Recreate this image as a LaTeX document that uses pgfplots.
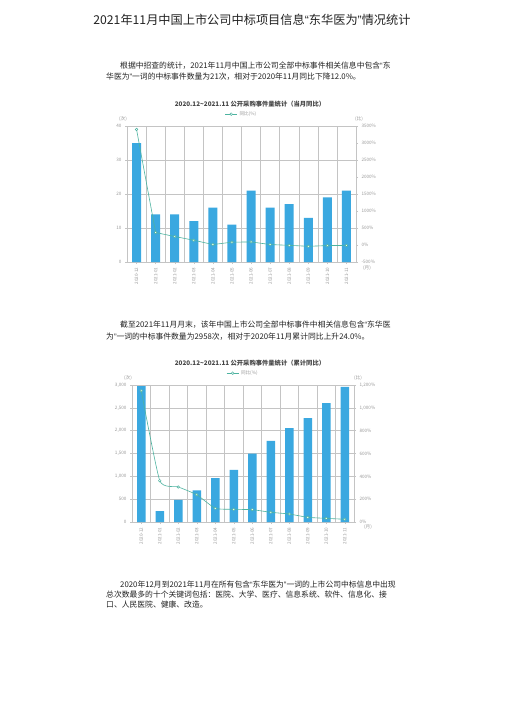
\documentclass[border=0pt]{standalone}
\usepackage{fontspec}
\setmainfont{Noto Sans CJK SC}
\newfontfamily\latinfont{Liberation Sans}
\usepackage{pgfplots}
\pgfplotsset{compat=1.18}

\definecolor{barblue}{HTML}{3AA8E0}
\definecolor{lineteal}{HTML}{4DB3A0}
\definecolor{gridgray}{HTML}{C4C4C4}
\definecolor{ticktext}{HTML}{9A9A9A}
\definecolor{bodytext}{HTML}{222222}
\definecolor{titletext}{HTML}{444444}

\newcommand{\ticksize}{\fontsize{4.6}{5}\selectfont}
\newcommand{\bodysize}{\fontsize{7.8}{9}\selectfont}
\newcommand{\ql}{{\latinfont “}}
\newcommand{\qr}{{\latinfont ”}}

\pgfplotsset{
  chartbase/.style={
    scale only axis,
    xmin=-0.5, xmax=11.5,
    /pgf/number format/assume math mode=true,
    tick label style={font=\ticksize, text=ticktext},
    axis line style={gridgray, line width=0.5pt},
    tick style={gridgray, line width=0.4pt},
    major tick length=2pt,
    tick align=outside,
  },
  leftaxis/.style={
    chartbase,
    axis x line*=bottom, axis y line*=left,
    xtick={0,...,11},
    xticklabels={2020-12,2021-01,2021-02,2021-03,2021-04,2021-05,2021-06,2021-07,2021-08,2021-09,2021-10,2021-11},
    x tick label style={rotate=90, anchor=east},
    minor xtick={0.5,1.5,...,10.5},
    xminorgrids, ymajorgrids,
    grid style={gridgray, line width=0.5pt},
    minor grid style={gridgray, line width=0.5pt},
    minor tick length=0pt,
  },
  rightaxis/.style={
    chartbase,
    axis x line=none, axis y line*=right,
    legend style={at={(0.5,1)}, anchor=south, yshift=7pt, draw=none, fill=none,
      font=\ticksize, text=ticktext, inner sep=0pt},
    legend image code/.code={\draw[mark repeat=2,mark phase=2,##1] plot coordinates {(0pt,0pt) (6pt,0pt) (12pt,0pt)};},
  },
  teal line/.style={lineteal, line width=0.6pt, mark=*, mark size=1.3pt,
    mark options={fill=white, draw=lineteal, line width=0.5pt}},
}

\begin{document}
\begin{tikzpicture}[x=1pt,y=1pt]
\fill[white] (0,0) rectangle (504,-713);
\useasboundingbox (0,0) rectangle (504,-713);

% page title
\node[text=bodytext, inner sep=0pt] at (252,-20) {\fontsize{12.2}{14}\selectfont 2021年11月中国上市公司中标项目信息\ql 东华医为\qr 情况统计};

% paragraph 1
\node[text=bodytext, anchor=west, inner sep=0pt] at (120,-66) {\bodysize 根据中招查的统计，2021年11月中国上市公司全部中标事件相关信息中包含\ql 东};
\node[text=bodytext, anchor=west, inner sep=0pt] at (106,-77) {\bodysize 华医为\qr 一词的中标事件数量为21次，相对于2020年11月同比下降12.0\%。};

% chart 1
\node[text=titletext, inner sep=0pt] at (250,-104) {\fontsize{6.3}{7}\selectfont\bfseries 2020.12\textasciitilde2021.11 公开采购事件量统计（当月同比）};
\node[text=ticktext, inner sep=0pt] at (123,-119) {\ticksize (次)};
\node[text=ticktext, inner sep=0pt] at (359,-119) {\ticksize (比)};
\node[text=ticktext, inner sep=0pt] at (367,-268) {\ticksize (月)};

\begin{axis}[leftaxis, at={(127pt,-262pt)}, anchor=south west,
  width=229pt, height=136pt,
  ymin=0, ymax=40, ytick={0,10,20,30,40}]
\addplot[ybar, bar width=9pt, fill=barblue, draw=none] coordinates {
  (0,35) (1,14) (2,14) (3,12) (4,16) (5,11) (6,21) (7,16) (8,17) (9,13) (10,19) (11,21)};
\end{axis}
\begin{axis}[rightaxis, at={(127pt,-262pt)}, anchor=south west,
  width=229pt, height=136pt,
  ymin=-500, ymax=3500, ytick={-500,0,...,3500},
  yticklabel={\pgfmathprintnumber[fixed,set thousands separator={}]{\tick}\%}]
\addplot[teal line] coordinates {
  (0,3400) (1,367) (2,250) (3,140) (4,14) (5,83) (6,91) (7,14) (8,-10) (9,-38) (10,-17) (11,-12)};
\addlegendentry{同比(\%)}
\end{axis}

% paragraph 2
\node[text=bodytext, anchor=west, inner sep=0pt] at (120,-325) {\bodysize 截至2021年11月月末，该年中国上市公司全部中标事件中相关信息包含\ql 东华医};
\node[text=bodytext, anchor=west, inner sep=0pt] at (106,-337) {\bodysize 为\qr 一词的中标事件数量为2958次，相对于2020年11月累计同比上升24.0\%。};

% chart 2
\node[text=titletext, inner sep=0pt] at (250,-363) {\fontsize{6.3}{7}\selectfont\bfseries 2020.12\textasciitilde2021.11 公开采购事件量统计（累计同比）};
\node[text=ticktext, inner sep=0pt] at (128,-378) {\ticksize (次)};
\node[text=ticktext, inner sep=0pt] at (358,-378) {\ticksize (比)};
\node[text=ticktext, inner sep=0pt] at (368,-527) {\ticksize (月)};

\begin{axis}[leftaxis, at={(132pt,-522pt)}, anchor=south west,
  width=222pt, height=137pt,
  ymin=0, ymax=3000, ytick={0,500,...,3000},
  yticklabel style={/pgf/number format/.cd, fixed, 1000 sep={,}}]
\addplot[ybar, bar width=8.5pt, fill=barblue, draw=none] coordinates {
  (0,2975) (1,241) (2,482) (3,693) (4,963) (5,1139) (6,1496) (7,1774) (8,2058) (9,2277) (10,2606) (11,2958)};
\end{axis}
\begin{axis}[rightaxis, at={(132pt,-522pt)}, anchor=south west,
  width=222pt, height=137pt,
  ymin=0, ymax=1200, ytick={0,200,...,1200},
  yticklabel={\pgfmathprintnumber[fixed,1000 sep={,}]{\tick}\%}]
\addplot[teal line, smooth, tension=0.3] coordinates {
  (0,1150) (1,362) (2,307) (3,239) (4,120) (5,111) (6,108) (7,85) (8,70) (9,41) (10,32) (11,24)};
\addlegendentry{同比(\%)}
\end{axis}

% paragraph 3
\node[text=bodytext, anchor=west, inner sep=0pt] at (120,-585) {\bodysize 2020年12月到2021年11月在所有包含\ql 东华医为\qr 一词的上市公司中标信息中出现};
\node[text=bodytext, anchor=west, inner sep=0pt] at (106,-595) {\bodysize 总次数最多的十个关键词包括：医院、大学、医疗、信息系统、软件、信息化、接};
\node[text=bodytext, anchor=west, inner sep=0pt] at (106,-605) {\bodysize 口、人民医院、健康、改造。};
\end{tikzpicture}
\end{document}
